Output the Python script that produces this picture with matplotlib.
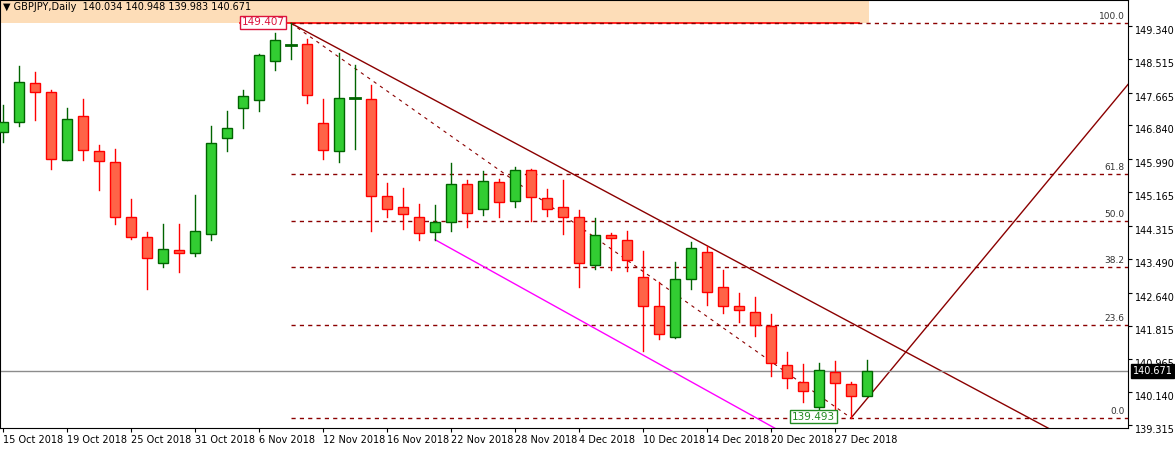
import matplotlib
matplotlib.use("Agg")
import matplotlib.pyplot as plt
from matplotlib.patches import Rectangle
import numpy as np

# zoomed-pixel readings converted to prices below via scale
# (open_zy, close_zy, high_zy, low_zy, offset) offset: 149.49 for first 38, 144.466 for later
raw_a = [  # index 0..37 (zoom base 149.49)
    (337,307,255,365),(307,187,138,317),(190,217,156,299),(217,418,210,446),(421,298,265,421),
    (289,391,237,419),(394,424,376,509),(427,592,387,611),(592,652,537,656),(652,715,636,806),
    (730,688,612,740),(691,699,612,755),(700,634,525,707),(643,370,318,659),(355,325,273,392),
    (265,229,210,323),(241,106,102,272),(124,61,39,149),(74,74,10,116),(73,226,57,248),
    (310,391,237,416),(394,235,100,425),(235,235,135,386),(238,529,195,632),(529,568,489,590),
    (562,583,504,626),(592,640,552,659),(637,607,555,659),(607,493,430,632),(493,580,481,620),
    (568,484,453,584),(487,547,477,590),(544,451,441,560),(451,532,448,602),(535,568,507,587),
    (562,592,480,641),(592,730,570,800),(736,646,594,748)]
raw_b = [  # index 38..54 (zoom base 144.466)
    (45,55,40,150),(61,119,34,153),(172,259,93,394),(259,343,187,356),(352,178,126,355),
    (178,85,66,206),(97,217,78,254),(202,259,150,278),(259,271,219,305),(277,316,232,347),
    (319,430,283,467),(436,475,397,505),(487,514,432,545),(562,451,430,583),(457,490,424,566),
    (493,529,487,594),(529,454,420,529)]
ohlc = [tuple(round(149.49 - v/119.43, 3) for v in r) for r in raw_a] + \
       [tuple(round(144.466 - v/119.43, 3) for v in r) for r in raw_b]
opens = [r[0] for r in ohlc]; closes = [r[1] for r in ohlc]
highs = [r[2] for r in ohlc]; lows = [r[3] for r in ohlc]

date_labels = ["15 Oct 2018","19 Oct 2018","25 Oct 2018","31 Oct 2018","6 Nov 2018","12 Nov 2018",
               "16 Nov 2018","22 Nov 2018","28 Nov 2018","4 Dec 2018","10 Dec 2018","14 Dec 2018",
               "20 Dec 2018","27 Dec 2018"]
price_ticks = [149.340,148.515,147.665,146.840,145.990,145.165,144.315,143.490,142.640,141.815,140.965,140.140,139.315]
fib_levels = [0.0, 23.6, 38.2, 50.0, 61.8, 100.0]
fib_hi, fib_lo = 149.407, 139.493
last_price = 140.671

fig = plt.figure(figsize=(11.75, 4.49), dpi=100)
ax = fig.add_axes([0, 21/449, 1128/1175, 1 - 21/449])
ax.set_xlim(-0.1875, 70.31)
ax.set_ylim(139.241, 149.992)

DR = "#8B0000"
# header rectangle
ax.add_patch(Rectangle((-1, fib_hi), 55.1, 2, facecolor="#FDDDB8", edgecolor="none", zorder=0))
ax.plot([14.8, 53.5], [fib_hi, fib_hi], color="red", lw=1.2, zorder=1)

# fib levels
for lv in fib_levels:
    p = fib_lo + (fib_hi - fib_lo) * lv / 100
    ax.plot([18, 70.31], [p, p], color=DR, lw=1, ls=(0, (3, 3)), zorder=1)
    ax.text(70.1, p + 0.05, f"{lv:.1f}", fontsize=6.5, ha="right", va="bottom", color="#333333")
ax.plot([18, 53], [fib_hi, fib_lo], color=DR, lw=0.8, ls=(0, (3, 4)), zorder=1)

# trend lines
ax.plot([18, 65.5], [fib_hi, fib_hi - 0.2149 * 47.5], color=DR, lw=1, zorder=1)
ax.plot([27, 48.3], [lows[27], lows[27] - 0.223 * 21.3], color="magenta", lw=1, zorder=1)
ax.plot([53, 70.31], [fib_lo, fib_lo + 0.484 * 17.31], color=DR, lw=1, zorder=1)
ax.axhline(last_price, color="#8c8c8c", lw=1, zorder=1)

for i, (o, c, h, l) in enumerate(zip(opens, closes, highs, lows)):
    up = c >= o
    ec = "#006400" if up else "#FF0000"
    fc = "#32CD32" if up else "#FF6347"
    ax.plot([i, i], [l, h], color=ec, lw=1, zorder=2)
    bot, top = min(o, c), max(o, c)
    if top - bot < 0.02:
        ax.plot([i - 0.33, i + 0.33], [o, o], color=ec, lw=2, zorder=3)
    else:
        ax.add_patch(Rectangle((i - 0.33, bot), 0.66, top - bot, facecolor=fc, edgecolor=ec, lw=1, zorder=3))

ax.text(17.6, fib_hi + 0.03, "149.407", fontsize=7.5, color="#DC143C", ha="right", va="center",
        bbox=dict(boxstyle="square,pad=0.15", fc="white", ec="#DC143C", lw=1), zorder=5)
ax.text(49.3, fib_lo + 0.03, "139.493", fontsize=7.5, color="#228B22", ha="left", va="center",
        bbox=dict(boxstyle="square,pad=0.15", fc="white", ec="#228B22", lw=1), zorder=5)
ax.text(0.003, 0.995, "▼ GBPJPY,Daily  140.034 140.948 139.983 140.671", transform=ax.transAxes,
        fontsize=7, va="top", ha="left", color="black", zorder=6)

ax.set_xticks(range(0, 53, 4))
ax.set_xticklabels(date_labels, fontsize=7, ha="left")
ax.yaxis.tick_right()
ax.set_yticks(price_ticks)
ax.set_yticklabels([f"{p:.3f}" for p in price_ticks], fontsize=7, va="top")
ax.tick_params(axis="both", length=3, pad=2)
ax.text(1.004, last_price, f"{last_price:.3f}", transform=ax.get_yaxis_transform(), fontsize=7,
        color="white", va="center", ha="left",
        bbox=dict(boxstyle="square,pad=0.2", fc="black", ec="black"), zorder=6, clip_on=False)
for s in ax.spines.values():
    s.set_color("black")
fig.savefig("out.png", dpi=100)
